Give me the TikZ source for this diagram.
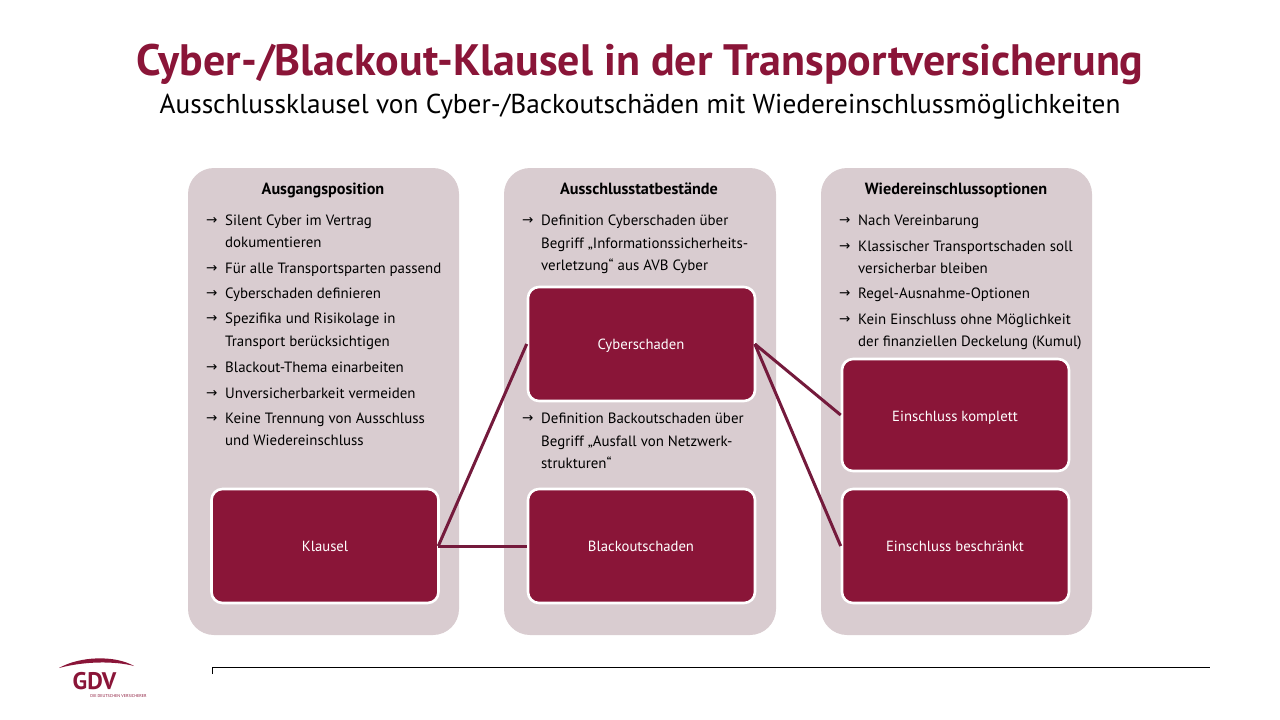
\documentclass[tikz,border=0pt]{standalone}
\usepackage{fontspec}
\setmainfont{PT Sans}
\newfontfamily\symfont{DejaVu Sans}
\definecolor{gdvred}{HTML}{8A1538}
\definecolor{panelbg}{HTML}{D9CCD0}
\definecolor{linkred}{HTML}{741A3C}
\tikzset{
 panel/.style={fill=panelbg,draw=none,rounded corners=26pt},
 redbox/.style={fill=gdvred,draw=white,line width=2.6pt,rounded corners=11pt,minimum width=227pt,minimum height=114pt,inner sep=0pt,text=white},
 boxlabel/.style={anchor=base,inner sep=0pt,text=white,font=\fontsize{14.7}{16}\selectfont},
 head/.style={anchor=base,font=\fontsize{16.2}{18}\selectfont\bfseries,inner sep=0pt,text=black},
 txt/.style={anchor=base west,font=\fontsize{14.9}{17}\selectfont,inner sep=0pt,text=black},
 arr/.style={anchor=base west,font=\fontsize{13.5}{15}\symfont,inner sep=0pt,text=black},
 link/.style={draw=linkred,line width=3pt},
}
\newcommand{\itm}[4]{\node[arr] (a#1) at (#2-1,#3+4.5) {→}; \node[txt] (t#1) at (#2+18,#3+5.5) {#4};}
\begin{document}
\begin{tikzpicture}[x=1pt,y=-1pt]
\useasboundingbox (0,0) rectangle (1280,720);
\node[anchor=base,font=\fontsize{44}{46}\selectfont\bfseries,text=gdvred,inner sep=0pt] (title) at (640,75) {Cyber-/Blackout-Klausel in der Transportversicherung};
\node[anchor=base,font=\fontsize{27.3}{30}\selectfont,text=black,inner sep=0pt] (subtitle) at (640,113) {Ausschlussklausel von Cyber-/Backoutschäden mit Wiedereinschlussmöglichkeiten};
\path[panel] (188,168) rectangle (459,635);
\path[panel] (504,168) rectangle (776,635);
\path[panel] (821,168) rectangle (1092,635);
\node[head] (h1) at (323,194) {Ausgangsposition};
\node[head] (h2) at (639,194) {Ausschlusstatbestände};
\node[head] (h3) at (956,194) {Wiedereinschlussoptionen};
\itm{a}{207}{220}{Silent Cyber im Vertrag}
\node[txt] (ab) at (225,247.5) {dokumentieren};
\itm{c}{207}{268}{Für alle Transportsparten passend}
\itm{d}{207}{293}{Cyberschaden definieren}
\itm{e}{207}{318}{Spezifika und Risikolage in}
\node[txt] (eb) at (225,346.5) {Transport berücksichtigen};
\itm{f}{207}{367}{Blackout-Thema einarbeiten}
\itm{g}{207}{393}{Unversicherbarkeit vermeiden}
\itm{h}{207}{418}{Keine Trennung von Ausschluss}
\node[txt] (hb) at (225,445.5) {und Wiedereinschluss};
\itm{i}{523}{220}{Definition Cyberschaden über}
\node[txt] (ib) at (541,248.5) {Begriff „Informationssicherheits-};
\node[txt] (ic) at (541,270.5) {verletzung“ aus AVB Cyber};
\itm{j}{523}{418}{Definition Backoutschaden über}
\node[txt] (jb) at (541,446.5) {Begriff „Ausfall von Netzwerk-};
\node[txt] (jc) at (541,468.5) {strukturen“};
\itm{k}{840}{220}{Nach Vereinbarung}
\itm{l}{840}{246}{Klassischer Transportschaden soll}
\node[txt] (lb) at (858,273.5) {versicherbar bleiben};
\itm{m}{840}{293}{Regel-Ausnahme-Optionen}
\itm{n}{840}{319}{Kein Einschluss ohne Möglichkeit}
\node[txt] (nb) at (858,346.5) {der finanziellen Deckelung (Kumul)};
\node[redbox] (klausel) at (325,546) {};
\node[redbox] (cyber) at (641.5,344) {};
\node[redbox] (black) at (641.5,546) {};
\node[redbox,minimum height=112pt] (komplett) at (955.5,415) {};
\node[redbox] (beschr) at (955.5,546) {};
\node[boxlabel] (lklausel) at (325,551) {Klausel};
\node[boxlabel] (lcyber) at (641,349) {Cyberschaden};
\node[boxlabel] (lblack) at (641,551) {Blackoutschaden};
\node[boxlabel] (lkomplett) at (955,421) {Einschluss komplett};
\node[boxlabel] (lbeschr) at (955,551) {Einschluss beschränkt};
\draw[link] ([xshift=-1.5pt]klausel.east) -- (cyber.west);
\draw[link] ([xshift=-1.5pt]klausel.east) -- (black.west);
\draw[link] ([xshift=-1.5pt]cyber.east) -- (komplett.west);
\draw[link] ([xshift=-1.5pt]cyber.east) -- (beschr.west);
\coordinate (r0) at (212,667); \coordinate (r1) at (1210,667); \coordinate (r2) at (212,674);
\draw[black,line width=1pt] (r2) -- (r0) -- (r1);
\fill[gdvred] (59,668) .. controls (80,656) and (115,655) .. (134,666) .. controls (115,661) and (85,661) .. (59,668) -- cycle;
\node[anchor=base,font=\fontsize{24}{24}\selectfont\bfseries,text=gdvred,inner sep=0pt] (gdv) at (94.5,689) {GDV};
\node[anchor=base,font=\fontsize{4.2}{5}\selectfont,text=gdvred,inner sep=0pt] (gdvs) at (118.5,697) {DIE DEUTSCHEN VERSICHERER};
\end{tikzpicture}
\end{document}
